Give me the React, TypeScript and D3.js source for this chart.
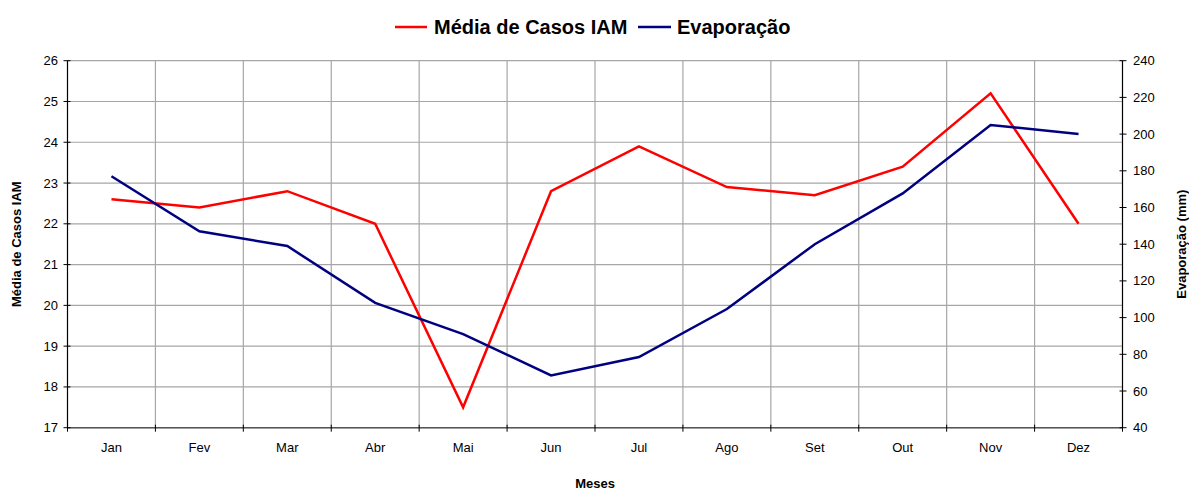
import React from "react";
import * as d3 from "d3";

const months = ["Jan", "Fev", "Mar", "Abr", "Mai", "Jun", "Jul", "Ago", "Set", "Out", "Nov", "Dez"];
const mediaCasos = [22.6, 22.4, 22.8, 22.0, 17.5, 22.8, 23.9, 22.9, 22.7, 23.4, 25.2, 22.0];
const evaporacao = [177, 147, 139, 108, 91, 68.5, 78.5, 104.7, 140, 167.7, 205, 200];
const leftTicks = [17, 18, 19, 20, 21, 22, 23, 24, 25, 26];
const rightTicks = [40, 60, 80, 100, 120, 140, 160, 180, 200, 220, 240];

const W = 1189;
const H = 490;
const L = 67.5;
const R = 1122.5;
const T = 60.7;
const B = 427.7;
const FONT = "'Liberation Sans', Arial, sans-serif";

export default function App() {
  const x = d3.scaleBand<string>().domain(months).range([L, R]);
  const yL = d3.scaleLinear().domain([17, 26]).range([B, T]);
  const yR = d3.scaleLinear().domain([40, 240]).range([B, T]);
  const cx = (m: string) => (x(m) as number) + x.bandwidth() / 2;
  const redLine = d3.line<number>().x((_, i) => cx(months[i])).y((d) => yL(d))(mediaCasos) as string;
  const blueLine = d3.line<number>().x((_, i) => cx(months[i])).y((d) => yR(d))(evaporacao) as string;
  const bounds = months.map((m) => x(m) as number).concat([R]);

  return (
    <svg width={W} height={H} style={{ position: "absolute", left: 0, top: 0 }} fontFamily={FONT}>
      <rect x={0} y={0} width={W} height={H} fill="#fff" />
      {/* legend */}
      <g>
        <line x1={395} x2={427} y1={27} y2={27} stroke="#ff0000" strokeWidth={2.5} />
        <text x={434} y={34} fontSize={20} fontWeight="bold" fill="#000">Média de Casos IAM</text>
        <line x1={638} x2={671} y1={27} y2={27} stroke="#000080" strokeWidth={2.5} />
        <text x={677} y={34} fontSize={20} fontWeight="bold" fill="#000">Evaporação</text>
      </g>
      {/* horizontal grid */}
      {leftTicks.map((t) => (
        <line key={"h" + t} x1={L} x2={R} y1={yL(t)} y2={yL(t)} stroke="#a6a6a6" strokeWidth={1.2} />
      ))}
      {/* vertical grid */}
      {bounds.slice(1, -1).map((b, i) => (
        <line key={"v" + i} x1={b} x2={b} y1={T} y2={B} stroke="#a6a6a6" strokeWidth={1.2} />
      ))}
      {/* axes */}
      <line x1={L} x2={L} y1={T} y2={B} stroke="#000" strokeWidth={1.2} />
      <line x1={R} x2={R} y1={T} y2={B} stroke="#000" strokeWidth={1.2} />
      <line x1={L} x2={R} y1={B} y2={B} stroke="#555" strokeWidth={1.5} />
      {leftTicks.map((t) => (
        <g key={"lt" + t}>
          <line x1={L - 4} x2={L + 3} y1={yL(t)} y2={yL(t)} stroke="#000" strokeWidth={1} />
          <text x={58} y={yL(t) + 4.5} fontSize={13} textAnchor="end" fill="#000">{t}</text>
        </g>
      ))}
      {rightTicks.map((t) => (
        <g key={"rt" + t}>
          <line x1={R - 3} x2={R + 4} y1={yR(t)} y2={yR(t)} stroke="#000" strokeWidth={1} />
          <text x={1133} y={yR(t) + 4.5} fontSize={13} textAnchor="start" fill="#000">{t}</text>
        </g>
      ))}
      {bounds.map((b, i) => (
        <line key={"bt" + i} x1={b} x2={b} y1={B - 3} y2={B + 4} stroke="#000" strokeWidth={1} />
      ))}
      {months.map((m) => (
        <text key={"m" + m} x={cx(m)} y={452} fontSize={13} textAnchor="middle" fill="#000">{m}</text>
      ))}
      {/* series */}
      <path d={redLine} fill="none" stroke="#ff0000" strokeWidth={2.5} strokeLinejoin="miter" />
      <path d={blueLine} fill="none" stroke="#000080" strokeWidth={2.5} strokeLinejoin="miter" />
      {/* axis titles */}
      <text x={595} y={488} fontSize={13} fontWeight="bold" textAnchor="middle" fill="#000">Meses</text>
      <text transform={`translate(21,${(T + B) / 2}) rotate(-90)`} fontSize={13} fontWeight="bold" textAnchor="middle" fill="#000">Média de Casos IAM</text>
      <text transform={`translate(1186,${(T + B) / 2}) rotate(-90)`} fontSize={13} fontWeight="bold" textAnchor="middle" fill="#000">Evaporação (mm)</text>
    </svg>
  );
}
